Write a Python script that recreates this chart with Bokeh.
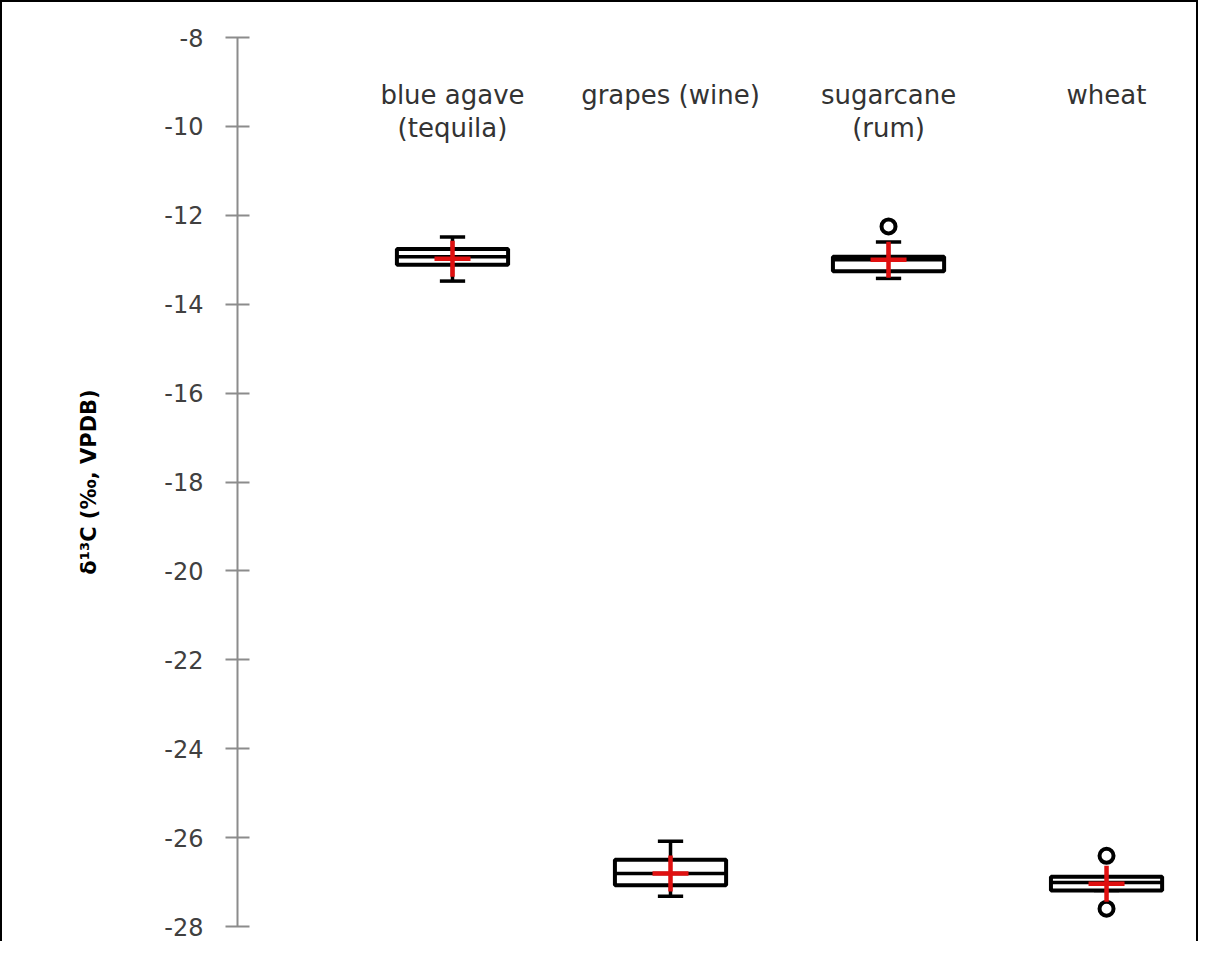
from bokeh.plotting import figure
from bokeh.models import ColumnDataSource, Range1d, FixedTicker
from bokeh.core.properties import value
from bokeh.embed import file_html
from bokeh.resources import INLINE

# ---- data ----
categories = ["blue agave (tequila)", "grapes (wine)", "sugarcane (rum)", "wheat"]
label_line1 = ["blue agave", "grapes (wine)", "sugarcane", "wheat"]
label_line2 = ["(tequila)", "", "(rum)", ""]
lower_whisker = [-13.48, -27.32, -13.42, -27.19]
q1 = [-13.11, -27.07, -13.26, -27.19]
median = [-12.93, -26.81, -13.00, -27.01]
q3 = [-12.76, -26.50, -12.93, -26.88]
upper_whisker = [-12.49, -26.08, -12.60, -26.88]
mean = [-12.98, -26.81, -13.00, -27.04]
outlier_cat = [3, 4, 4]
outlier_val = [-12.25, -26.41, -27.60]
y_ticks = [-8, -10, -12, -14, -16, -18, -20, -22, -24, -26, -28]
y_tick_labels = ["-8", "-10", "-12", "-14", "-16", "-18", "-20", "-22", "-24", "-26", "-28"]

FONT = "DejaVu Sans"
pos = [i + 1 for i in range(len(categories))]
box_half = 0.255
cap_half = 0.058

src = ColumnDataSource(dict(
    x=pos,
    left=[p_ - box_half for p_ in pos],
    right=[p_ + box_half for p_ in pos],
    cl=[p_ - cap_half for p_ in pos],
    cr=[p_ + cap_half for p_ in pos],
    lw=lower_whisker, q1=q1, med=median, q3=q3, uw=upper_whisker, mean=mean,
    l1=label_line1, l2=label_line2,
))
out_src = ColumnDataSource(dict(x=outlier_cat, y=outlier_val))

W, H = 1198, 941
p = figure(width=W, height=H, output_backend="svg", toolbar_location=None,
           x_range=Range1d(0.0138, 4.431), y_range=Range1d(-28, -8),
           min_border_left=235, min_border_right=0, min_border_top=35,
           min_border_bottom=17)
p.styles = {"border-top": "2px solid black", "border-left": "2px solid black",
            "border-right": "2px solid black"}
p.outline_line_color = None
p.xgrid.visible = False
p.ygrid.visible = False
p.xaxis.visible = False
p.background_fill_color = "white"
p.border_fill_color = "white"

# whiskers
for y0, y1 in (("q3", "uw"), ("q1", "lw")):
    p.segment(x0="x", y0=y0, x1="x", y1=y1, source=src, line_color="black", line_width=3.5)
p.segment(x0="cl", y0="uw", x1="cr", y1="uw", source=src, line_color="black", line_width=3.5)
p.segment(x0="cl", y0="lw", x1="cr", y1="lw", source=src, line_color="black", line_width=3.5)
# boxes
p.quad(left="left", right="right", bottom="q1", top="q3", source=src,
       fill_color="white", line_color="black", line_width=4)
p.segment(x0="left", y0="med", x1="right", y1="med", source=src, line_color="black", line_width=3.5)
# outliers
p.scatter(x="x", y="y", source=out_src, marker="circle", size=14,
          fill_color=None, line_color="black", line_width=4)
# means
p.scatter(x="x", y="mean", source=src, marker="cross", size=36,
          line_color="#e01010", line_width=4.5)

# category labels
p.text(x="x", y=-9.30, text="l1", source=src, text_font=value(FONT),
       text_font_size="26px", text_color="#333333", text_align="center",
       text_baseline="middle")
p.text(x="x", y=-10.04, text="l2", source=src, text_font=value(FONT),
       text_font_size="26px", text_color="#333333", text_align="center",
       text_baseline="middle")

ax = p.yaxis[0]
ax.ticker = FixedTicker(ticks=y_ticks)
ax.major_label_overrides = {t: s for t, s in zip(y_ticks, y_tick_labels)}
ax.minor_tick_line_color = None
ax.axis_line_color = "#8c8c8c"
ax.axis_line_width = 2
ax.major_tick_line_color = "#8c8c8c"
ax.major_tick_line_width = 2
ax.major_tick_in = 12
ax.major_tick_out = 12
ax.major_label_standoff = 22
ax.major_label_text_font = FONT
ax.major_label_text_font_size = "24px"
ax.major_label_text_color = "#404040"
ax.axis_label = "δ¹³C (‰, VPDB)"
ax.axis_label_text_font = FONT
ax.axis_label_text_font_size = "21px"
ax.axis_label_text_font_style = "bold"
ax.axis_label_text_color = "black"
ax.axis_label_standoff = 60

open("out.html", "w").write(file_html(p, INLINE))
